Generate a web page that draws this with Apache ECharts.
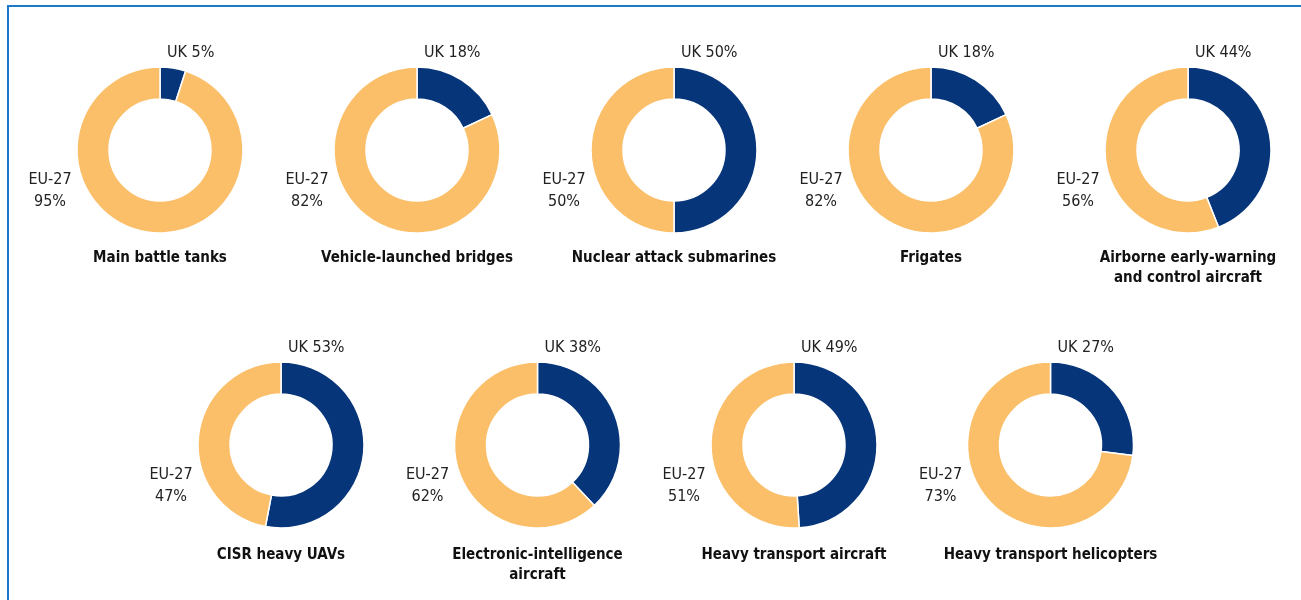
<!DOCTYPE html>
<html>
<head>
<meta charset="utf-8">
<script src="https://cdn.jsdelivr.net/npm/echarts@6/dist/echarts.min.js"></script>
<style>
html,body{margin:0;padding:0;background:#fff;}
#chart{width:1301px;height:600px;}
</style>
</head>
<body>
<div id="chart"></div>
<script>
// ---- data ----
const categories = [
  ["Main battle tanks"],
  ["Vehicle-launched bridges"],
  ["Nuclear attack submarines"],
  ["Frigates"],
  ["Airborne early-warning", "and control aircraft"],
  ["CISR heavy UAVs"],
  ["Electronic-intelligence", "aircraft"],
  ["Heavy transport aircraft"],
  ["Heavy transport helicopters"]
];
const ukShare = [5, 18, 50, 18, 44, 53, 38, 49, 27];
const euShare = [95, 82, 50, 82, 56, 47, 62, 51, 73];
const seriesNames = ["UK", "EU-27"];

// ---- layout ----
const FONT = '"Liberation Sans Narrow","DejaVu Sans Condensed","Roboto Condensed",sans-serif';
const NAVY = '#06357a', ORANGE = '#fbbf69', TEXT = '#222222';
function centerOf(i) {
  if (i < 5) return [160 + 257 * i, 150];
  return [281 + 256.5 * (i - 5), 445];
}

const chart = echarts.init(document.getElementById('chart'), null, {renderer: 'canvas'});
const series = [];
const graphics = [];

// frame
graphics.push({type: 'rect', shape: {x: 8, y: 6, width: 1400, height: 700},
  style: {fill: 'none', stroke: '#1b7bc9', lineWidth: 2}, silent: true});

categories.forEach((cat, i) => {
  const [cx, cy] = centerOf(i);
  series.push({
    type: 'pie',
    center: [cx, cy],
    radius: [51, 83],
    startAngle: 90,
    clockwise: true,
    silent: true,
    animation: false,
    label: {show: false},
    labelLine: {show: false},
    itemStyle: {borderColor: '#ffffff', borderWidth: 1.5},
    data: [
      {name: seriesNames[0], value: ukShare[i], itemStyle: {color: NAVY}},
      {name: seriesNames[1], value: euShare[i], itemStyle: {color: ORANGE}}
    ]
  });
  graphics.push({type: 'text', x: cx + 7, y: cy - 97,
    style: {text: seriesNames[0] + ' ' + ukShare[i] + '%', font: '16px ' + FONT, fill: TEXT,
      align: 'left', verticalAlign: 'middle'}});
  graphics.push({type: 'text', x: cx - 110, y: cy + 41,
    style: {text: seriesNames[1] + '\n' + euShare[i] + '%', font: '16px ' + FONT, fill: TEXT,
      align: 'center', verticalAlign: 'middle', lineHeight: 22}});
  graphics.push({type: 'text', x: cx, y: cy + 98 + (i >= 5 ? 2 : 0),
    style: {text: cat.join('\n'), font: 'bold 15px ' + FONT, fill: '#111111',
      align: 'center', verticalAlign: 'top', lineHeight: 20}});
});

chart.setOption({
  animation: false,
  backgroundColor: '#ffffff',
  series: series,
  graphic: graphics
});
</script>
</body>
</html>
